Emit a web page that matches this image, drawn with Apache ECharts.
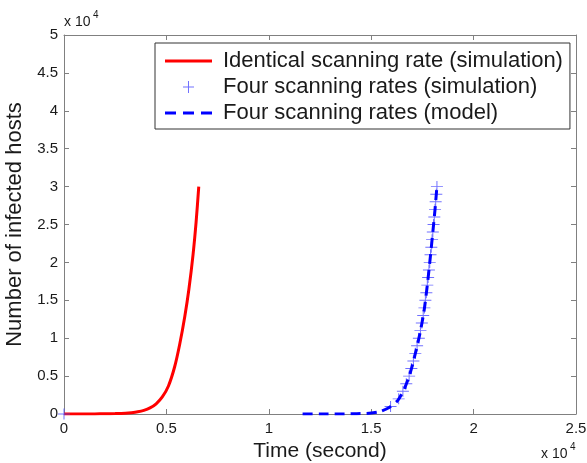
<!DOCTYPE html>
<html>
<head>
<meta charset="utf-8">
<script src="https://cdn.jsdelivr.net/npm/echarts@6/dist/echarts.min.js"></script>
<style>
html,body{margin:0;padding:0;background:#fff;}
#chart{width:587px;height:463px;}
</style>
</head>
<body>
<div id="chart"></div>
<script>
// ---- data ----
var redT = [0, 500, 1000, 1500, 2000, 2500, 3000, 3300, 3600, 3900, 4200, 4500, 4800, 5100, 5400, 5650, 5900, 6100, 6300, 6450, 6580];
var redV = [0, 2, 5, 12, 25, 55, 110, 180, 290, 480, 800, 1350, 2250, 3700, 6200, 9200, 12900, 16500, 21000, 25300, 30000];

var modelT = [11650, 12500, 13500, 14300, 14900, 15400, 15900, 16300, 16630, 16880, 17120, 17370, 17580, 17740, 17890, 18020, 18110, 18210];
var modelV = [0, 2, 10, 40, 100, 300, 900, 1800, 3400, 5200, 7600, 10500, 13600, 17000, 20800, 24300, 26800, 30000];

var simT = [0, 15945, 16341, 16548, 16713, 16852, 16960, 17060, 17154, 17241, 17327, 17404, 17472, 17539, 17599, 17646, 17693, 17740, 17779, 17819, 17858, 17897, 17935, 17972, 18009, 18045, 18081, 18116, 18148, 18179, 18210];
var simV = [0, 1000, 2000, 3000, 4000, 5000, 6000, 7000, 8000, 9000, 10000, 11000, 12000, 13000, 14000, 15000, 16000, 17000, 18000, 19000, 20000, 21000, 22000, 23000, 24000, 25000, 26000, 27000, 28000, 29000, 30000];

var seriesNames = ['Identical scanning rate (simulation)', 'Four scanning rates (simulation)', 'Four scanning rates (model)'];
var xTickLabels = ['0', '0.5', '1', '1.5', '2', '2.5'];
var yTickLabels = ['0', '0.5', '1', '1.5', '2', '2.5', '3', '3.5', '4', '4.5', '5'];
var xTitle = 'Time (second)';
var yTitle = 'Number of infected hosts';
var exponentText = 'x 10';
var exponentSup = '4';

function pairs(a, b) { return a.map(function (v, i) { return [v, b[i]]; }); }

var FONT = '"Liberation Sans", Arial, Helvetica, sans-serif';
var TXT = '#1a1a1a';
var AX = '#808080';
var RED = '#ff0000';
var BLUE = '#0000ff';
var MARK = '#4d4dff';
var plusPath = 'path://M0,5.5h12v1h-12z M5.5,0h1v12h-1z';
var plusLegend = 'path://M0,0h0.01v0.01h-0.01z M14,14h0.01v0.01h-0.01z M1.5,6.5h11v1h-11z M6.5,1h1v12h-1z';
var solidLegend = 'path://M0,0h47v3h-47z';
var dashLegend = 'path://M0,0h11v3h-11z M18,0h11v3h-11z M36,0h11v3h-11z';

var chart = echarts.init(document.getElementById('chart'), null, {renderer: 'canvas'});
var axisCommon = {
  type: 'value',
  axisLine: {show: true, onZero: false, lineStyle: {color: AX, width: 1}},
  axisTick: {show: true, inside: true, length: 5, lineStyle: {color: AX}},
  splitLine: {show: false}
};
chart.setOption({
  animation: false,
  backgroundColor: '#fff',
  textStyle: {fontFamily: FONT},
  grid: {left: 64, right: 11, top: 35, bottom: 49, containLabel: false, outerBoundsMode: 'none'},
  xAxis: [
    Object.assign({}, axisCommon, {
      min: 0, max: 25000, interval: 5000, position: 'bottom',
      name: xTitle, nameLocation: 'middle', nameGap: 24,
      nameTextStyle: {fontSize: 21, color: TXT, fontFamily: FONT},
      axisLabel: {margin: 7, fontSize: 15, color: TXT, fontFamily: FONT,
        formatter: function (v) { return xTickLabels[Math.round(v / 5000)]; }}
    }),
    Object.assign({}, axisCommon, {
      min: 0, max: 25000, interval: 5000, position: 'top',
      axisLabel: {show: false}
    })
  ],
  yAxis: [
    Object.assign({}, axisCommon, {
      min: 0, max: 50000, interval: 5000, position: 'left',
      name: yTitle, nameLocation: 'middle', nameGap: 36,
      nameTextStyle: {fontSize: 22, color: TXT, fontFamily: FONT},
      axisLabel: {margin: 6, fontSize: 15, color: TXT, fontFamily: FONT,
        formatter: function (v) { return yTickLabels[Math.round(v / 5000)]; }}
    }),
    Object.assign({}, axisCommon, {
      min: 0, max: 50000, interval: 5000, position: 'right',
      axisLabel: {show: false}
    })
  ],
  legend: {
    orient: 'vertical',
    left: 155, top: 43,
    padding: [7, 7, 5, 10],
    itemGap: 4,
    itemWidth: 47,
    itemHeight: 14,
    backgroundColor: '#fff',
    borderColor: '#333',
    borderWidth: 1,
    textStyle: {fontSize: 22, color: TXT, fontFamily: FONT, padding: [0, 0, 0, 6]},
    data: [
      {name: seriesNames[0], icon: solidLegend, itemStyle: {color: RED}},
      {name: seriesNames[1], icon: plusLegend, itemStyle: {color: MARK}},
      {name: seriesNames[2], icon: dashLegend, itemStyle: {color: BLUE}}
    ]
  },
  graphic: [
    {type: 'text', left: 64, top: 15, style: {text: exponentText, fontSize: 14, fill: TXT, fontFamily: FONT}},
    {type: 'text', left: 93, top: 10, style: {text: exponentSup, fontSize: 10, fill: TXT, fontFamily: FONT}},
    {type: 'text', left: 541, top: 447, style: {text: exponentText, fontSize: 14, fill: TXT, fontFamily: FONT}},
    {type: 'text', left: 570, top: 442, style: {text: exponentSup, fontSize: 10, fill: TXT, fontFamily: FONT}}
  ],
  series: [
    {
      name: seriesNames[0], type: 'line', data: pairs(redT, redV),
      showSymbol: false, symbol: 'none', smooth: 0.25,
      lineStyle: {color: RED, width: 3}, itemStyle: {color: RED}, z: 2
    },
    {
      name: seriesNames[1], type: 'scatter', data: pairs(simT, simV),
      symbol: plusPath, symbolSize: [12, 11],
      itemStyle: {color: MARK}, z: 3
    },
    {
      name: seriesNames[2], type: 'line', data: pairs(modelT, modelV),
      showSymbol: false, symbol: 'none', smooth: 0.25,
      lineStyle: {color: BLUE, width: 3, type: [10, 6]}, itemStyle: {color: BLUE}, z: 4
    }
  ]
});
</script>
</body>
</html>
